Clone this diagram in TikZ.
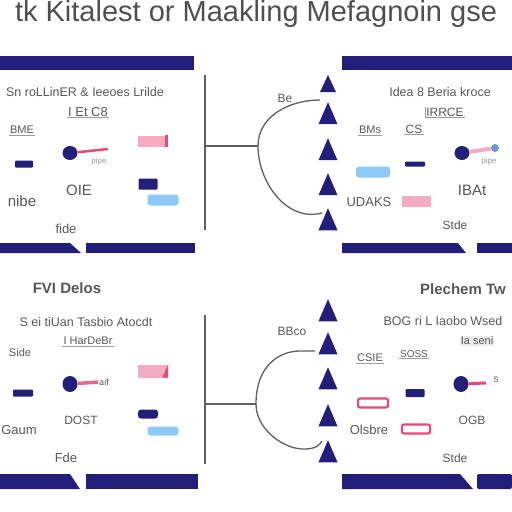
\documentclass[tikz,border=0pt]{standalone}
\usepackage{fontspec}
\setmainfont{Liberation Sans}
\usepackage{xcolor}
\usepackage{tikz}
\usetikzlibrary{positioning,shapes.geometric}

\definecolor{navy}{RGB}{34,30,122}
\definecolor{inkgray}{RGB}{88,88,88}
\definecolor{linegray}{RGB}{95,95,95}
\definecolor{softpink}{RGB}{246,172,192}
\definecolor{hotpink}{RGB}{236,72,118}
\definecolor{skyblue}{RGB}{142,202,246}

\begin{document}
\begin{tikzpicture}[x=1pt,y=-1pt,
		txt/.style = {text=inkgray, inner sep=1pt, font=\fontsize{10}{11}\selectfont},
		row/.style = {text=inkgray, inner sep=1pt, font=\fontsize{12.5}{13}\selectfont},
		big/.style = {text=inkgray, inner sep=1pt, font=\fontsize{15}{16}\selectfont},
		hd/.style = {text=inkgray, inner sep=1pt, font=\fontsize{15}{16}\selectfont\bfseries},
		tri/.style = {fill=navy, isosceles triangle, isosceles triangle stretches, shape border rotate=90, minimum height=22pt, minimum width=19pt, inner sep=0pt},
		blob/.style = {fill=navy, ellipse, minimum width=15pt, minimum height=14pt, inner sep=0pt},
		chip/.style = {fill=navy, rounded corners=1pt, inner sep=0pt},
		pbar/.style = {fill=softpink, inner sep=0pt, minimum width=30pt, minimum height=11pt},
		obar/.style = {draw=hotpink, line width=2.2pt, rounded corners=2pt, inner sep=0pt, minimum width=28pt, minimum height=9pt},
		bbar/.style = {fill=skyblue, rounded corners=3pt, inner sep=0pt, minimum width=31pt, minimum height=11pt},
		stem/.style = {draw=linegray, line width=1.3pt},
		uline/.style = {draw=inkgray!60, line width=0.8pt}
		]
		\useasboundingbox (0,0) rectangle (512,512);
		\fill[white] (0,0) rectangle (512,512);
		
		%title
		\node (title) [text=inkgray!90!black, inner sep=0pt, font=\fontsize{29}{31}\selectfont] at (256,14) {tk Kitalest or Maakling Mefagnoin gse};
		
		%panel bars
		\fill[navy] (0,56) rectangle (194,70);
		\fill[navy] (342,56) rectangle (512,70);
		\fill[navy] (0,243) -- (70,243) -- (81,253) -- (0,253) -- cycle;
		\fill[navy] (86,243) rectangle (195,253);
		\fill[navy] (342,243) -- (458,243) -- (466,253) -- (342,253) -- cycle;
		\fill[navy] (477,243) rectangle (512,253);
		\fill[navy] (0,474) -- (70,474) -- (80,489) -- (0,489) -- cycle;
		\fill[navy] (86,474) rectangle (198,489);
		\fill[navy] (342,474) -- (460,474) -- (473,489) -- (342,489) -- cycle;
		\fill[navy, rounded corners=2pt] (477,474) rectangle (512,489);
		
		%top left panel
		\node (a0) [row] at (85,92) {Sn roLLinER \& Ieeoes Lrilde};
		\node (a1) [txt, font=\fontsize{13}{14}\selectfont] at (88,112) {I Et C8};
		\node (a2) [txt, font=\fontsize{11}{12}\selectfont] at (22,130) {BME};
		\node (a3) [pbar] at (153,141) {};
		\node (a4) [blob] at (70,153) {};
		\coordinate (a4e) at (108,149);
		\node (a5) [txt, text=inkgray!60, font=\fontsize{8}{9}\selectfont] at (99,161) {pipe};
		\node (a6) [chip, minimum width=18pt, minimum height=7pt] at (24,164) {};
		\node (a7) [big] at (79,190) {OIE};
		\node (a8) [chip, minimum width=19pt, minimum height=11pt] at (148,184) {};
		\node (a9) [bbar] at (163,200) {};
		\node (a10) [big] at (22,201) {nibe};
		\node (a11) [big, font=\fontsize{13}{14}\selectfont] at (66,229) {fide};
		
		%top right panel
		\node (b0) [row] at (440,92) {Idea 8 Beria kroce};
		\node (b1) [txt, font=\fontsize{12}{13}\selectfont] at (445,112) {IRRCE};
		\node (b2) [txt, font=\fontsize{11}{12}\selectfont] at (370,130) {BMs};
		\node (b3) [txt, font=\fontsize{12}{13}\selectfont] at (414,129) {CS};
		\node (b4) [blob] at (462,153) {};
		\node (b4c) [circle, fill=skyblue!70!navy, minimum size=8pt, inner sep=0pt] at (495,148) {};
		\node (b5) [txt, text=inkgray!60, font=\fontsize{8}{9}\selectfont] at (489,161) {pipe};
		\node (b6) [chip, minimum width=20pt, minimum height=5pt] at (415,164) {};
		\node (b7) [bbar, minimum width=34pt] at (373,172) {};
		\node (b8) [big] at (472,190) {IBAt};
		\node (b9) [big, font=\fontsize{13}{14}\selectfont] at (369,202) {UDAKS};
		\node (b10) [pbar, minimum width=29pt] at (416,201) {};
		\node (b11) [txt, font=\fontsize{12}{13}\selectfont] at (455,225) {Stde};
		
		%bottom left panel
		\node (c0) [hd] at (67,288) {FVI Delos};
		\node (c1) [row] at (86,322) {S ei tiUan Tasbio Atocdt};
		\node (c2) [txt, font=\fontsize{11}{12}\selectfont] at (88,341) {I HarDeBr};
		\node (c3) [txt, font=\fontsize{11}{12}\selectfont] at (20,353) {Side};
		\node (c4) [pbar, minimum height=13pt] at (153,371) {};
		\node (c5) [blob, minimum height=16pt] at (70,384) {};
		\coordinate (c5e) at (98,382);
		\node (c6) [txt, font=\fontsize{9}{10}\selectfont] at (104,382) {aif};
		\node (c7) [chip, minimum width=20pt, minimum height=7pt] at (23,393) {};
		\node (c8) [txt, font=\fontsize{12}{13}\selectfont] at (81,420) {DOST};
		\node (c9) [chip, rounded corners=3pt, minimum width=20pt, minimum height=9pt] at (148,414) {};
		\node (c10) [bbar, minimum height=9pt] at (163,431) {};
		\node (c11) [big, font=\fontsize{13}{14}\selectfont] at (19,430) {Gaum};
		\node (c12) [big, font=\fontsize{13}{14}\selectfont] at (66,458) {Fde};
		
		%bottom right panel
		\node (d0) [hd] at (463,289) {Plechem Tw};
		\node (d1) [row] at (443,321) {BOG ri L Iaobo Wsed};
		\node (d2) [txt, fill=inkgray!12, font=\fontsize{11}{12}\selectfont] at (477,341) {Ia seni};
		\node (d3) [txt, font=\fontsize{11}{12}\selectfont] at (370,358) {CSIE};
		\node (d4) [txt] at (414,354) {SOSS};
		\node (d5) [blob, minimum height=16pt] at (461,384) {};
		\coordinate (d5e) at (486,383);
		\node (d6) [txt, font=\fontsize{8}{9}\selectfont] at (496,380) {S};
		\node (d7) [chip, minimum width=19pt, minimum height=8pt] at (415,393) {};
		\node (d8) [obar, minimum width=30pt] at (373,403) {};
		\node (d9) [txt, font=\fontsize{12}{13}\selectfont] at (472,420) {OGB};
		\node (d10) [big, font=\fontsize{13}{14}\selectfont] at (369,430) {Olsbre};
		\node (d11) [obar] at (416,429) {};
		\node (d12) [txt, font=\fontsize{12}{13}\selectfont] at (455,458) {Stde};
		
		%underlines and marks
		\draw[uline] (a1.south west) -- (a1.south east);
		\draw[uline] (a2.south west) -- (a2.south east);
		\draw[uline] (b1.north west) -- (b1.south west) -- (b1.south east);
		\draw[uline] (b2.south west) -- (b2.south east);
		\draw[uline] (b3.south west) -- (b3.south east);
		\draw[uline] (c2.south west) -- (c2.south east);
		\draw[uline] (d3.south west) -- (d3.south east);
		\draw[uline] (d4.south west) -- (d4.south east);
		\fill[hotpink] (a3.north east) rectangle ([xshift=-3pt]a3.south east);
		\fill[hotpink] (c4.north east) -- (c4.south east) -- ([xshift=-6pt]c4.south east) -- cycle;
		\draw[hotpink, line width=2.5pt] (a4) -- (a4e);
		\draw[softpink, line width=4pt] (b4) -- (b4c);
		\draw[hotpink!70!softpink, line width=3.5pt] (c5) -- (c5e);
		\draw[hotpink, line width=3pt] (d5) -- (d5e);
		
		%middle top tree
		\node (t1) [tri, minimum height=17pt, minimum width=16pt] at (328,87) {};
		\node (t2) [tri] at (328,118) {};
		\node (t3) [tri] at (328,154) {};
		\node (t4) [tri] at (328,189) {};
		\node (t5) [tri] at (328,224) {};
		\node (tl) [txt, font=\fontsize{12}{13}\selectfont] at (285,98) {Be};
		\coordinate (tt) at (205,75);
		\coordinate (tb) at (205,230);
		\coordinate (tj) at (205,146);
		\coordinate (tk) at (258,146);
		\coordinate (tu) at (320,100);
		\coordinate (td) at (322,213);
		
		%middle bottom tree
		\node (u1) [tri] at (328,315) {};
		\node (u2) [tri] at (328,348) {};
		\node (u3) [tri] at (328,383) {};
		\node (u4) [tri] at (328,420) {};
		\node (u5) [tri] at (328,456) {};
		\node (ul) [txt, font=\fontsize{12}{13}\selectfont] at (292,331) {BBco};
		\coordinate (ut) at (205,315);
		\coordinate (ub) at (205,464);
		\coordinate (uj) at (205,404);
		\coordinate (uk) at (256,404);
		\coordinate (uu) at (315,351);
		\coordinate (ud) at (322,441);
		
		\path[stem]
		(tt) edge (tb)
		(tj) edge (tk)
		(tk) edge [out=90, in=180] (tu)
		(tk) edge [out=270, in=195] (td)
		(ut) edge (ub)
		(uj) edge (uk)
		;
		\draw[stem] (uk) .. controls (256,365) and (280,351) .. (300,351) -- (uu);
		\draw[stem] (uk) .. controls (256,430) and (285,450) .. (305,449) .. controls (315,449) and (320,445) .. (ud);
		
	\end{tikzpicture}
\end{document}
